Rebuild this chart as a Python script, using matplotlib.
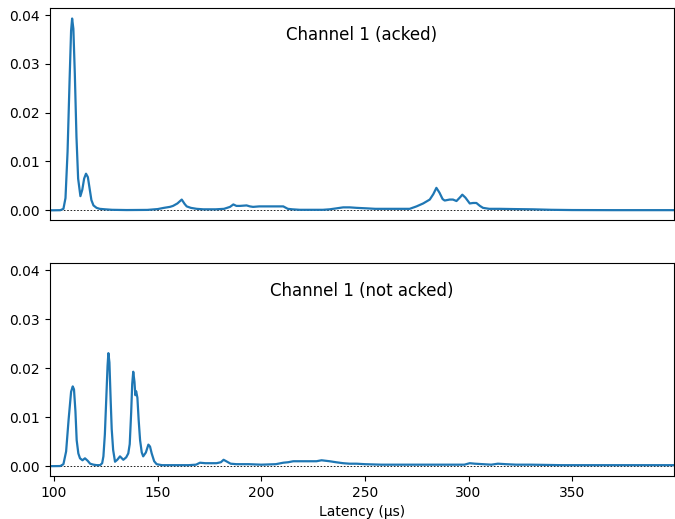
import matplotlib
matplotlib.use("Agg")
import matplotlib.pyplot as plt

# Channel 1 (acked)
acked_x = [98, 100, 103, 104.5, 105.5, 106.5, 107.5, 108.2, 108.7, 109.3, 110, 110.8, 111.6, 112.7,
           113.6, 114.5, 115.4, 116.3, 117.2, 118, 119, 120.5, 122, 124.6, 128, 135, 145, 150,
           153, 155.9, 157.4, 159.5, 161.6, 163, 164, 166, 168.8, 172, 178, 182, 184.9, 186.5,
           188, 189.7, 192.9, 194.5, 196, 199, 202.6, 206, 210.6, 212.8, 215, 218.6, 224, 229.7,
           233, 236.3, 239.5, 242.7, 246, 250.8, 255, 258.8, 265, 271.6, 274.9, 278.1, 281.3,
           283, 284.5, 286, 287.5, 288.5, 290.9, 292.5, 294.2, 296, 297, 298.5, 300.6, 302.2,
           303.8, 305.5, 307, 310, 315, 322, 331, 340, 350, 370, 399]
acked_y = [0.0, 0.0, 0.00002, 0.0003, 0.0025, 0.012, 0.027, 0.0368, 0.0393, 0.0372, 0.028, 0.015,
           0.0065, 0.0029, 0.0042, 0.0065, 0.0075, 0.0068, 0.0043, 0.0021, 0.0010, 0.0005, 0.0003,
           0.0002, 0.0001, 0.00005, 0.00008, 0.00025, 0.0005, 0.0007, 0.0009, 0.0014, 0.0022,
           0.0013, 0.0008, 0.0005, 0.0003, 0.0002, 0.0002, 0.0003, 0.0007, 0.0012, 0.0009, 0.0009,
           0.001, 0.0008, 0.0007, 0.0008, 0.0008, 0.0008, 0.0008, 0.0003, 0.0002, 0.0001, 0.0001,
           0.0001, 0.0002, 0.0004, 0.0006, 0.0006, 0.0005, 0.0004, 0.0003, 0.0003, 0.0003, 0.0003,
           0.0008, 0.0014, 0.0022, 0.0033, 0.0046, 0.0036, 0.0023, 0.0020, 0.0022, 0.0022, 0.0019,
           0.0027, 0.0032, 0.0026, 0.0014, 0.0015, 0.0015, 0.0009, 0.0005, 0.0003, 0.0003, 0.00025,
           0.0002, 0.0001, 0.00005, 0.00003, 0.00003]

# Channel 1 (not acked)
nack_x = [98, 100, 103, 104.5, 105.8, 107, 108.2, 109, 109.6, 110.3, 110.9, 111.7, 112.5, 113.7,
          114.9, 116.2, 117.4, 119, 120.6, 122.2, 123.2, 123.8, 124.5, 125.2, 125.8, 126.2,
          126.7, 127.3, 127.8, 128.5, 129.4, 130.5, 131.8, 133.4, 134.8, 135.8, 136.5, 137.2,
          137.7, 138.2, 138.8, 139.2, 139.6, 140.2, 140.8, 141.5, 142.3, 143, 144.3, 145.5,
          146.3, 147.1, 148.3, 149.5, 152, 158, 165, 168.5, 170.4, 173, 175.2, 178.4, 180.5,
          181.8, 183.5, 185.2, 188, 191, 194, 200, 207, 210.6, 213, 215.4, 218.6, 222, 226.6,
          229.1, 231, 233, 236, 239.5, 242.5, 245.9, 250, 258, 266, 275, 285, 295, 298, 300.6,
          303, 307, 311, 314.2, 318, 323, 330, 345, 360, 380, 399]
nack_y = [0.0, 0.0, 0.00002, 0.0004, 0.003, 0.0095, 0.0152, 0.0163, 0.0157, 0.0112, 0.0053,
          0.0026, 0.0016, 0.0012, 0.0016, 0.0011, 0.0005, 0.0003, 0.0002, 0.0002, 0.0006, 0.002,
          0.0065, 0.014, 0.0205, 0.0231, 0.0212, 0.0135, 0.0076, 0.0033, 0.0009, 0.0013, 0.002,
          0.0013, 0.0018, 0.0026, 0.0045, 0.011, 0.0168, 0.0193, 0.0172, 0.0145, 0.0153, 0.014,
          0.0095, 0.0053, 0.0028, 0.002, 0.0028, 0.0044, 0.004, 0.0026, 0.001, 0.0004, 0.0002,
          0.0002, 0.0002, 0.0003, 0.0007, 0.0006, 0.0006, 0.0006, 0.0008, 0.0013, 0.0009, 0.0005,
          0.0004, 0.0004, 0.0004, 0.0003, 0.0004, 0.0007, 0.0008, 0.001, 0.001, 0.001, 0.001,
          0.0012, 0.0011, 0.001, 0.0008, 0.0006, 0.0005, 0.0005, 0.0004, 0.0003, 0.0003, 0.0003,
          0.0003, 0.0003, 0.0003, 0.0006, 0.0005, 0.0004, 0.0003, 0.0005, 0.0004, 0.0003, 0.0003,
          0.0002, 0.0002, 0.0002, 0.0002]

titles = ["Channel 1 (acked)", "Channel 1 (not acked)"]
xticks = [100, 150, 200, 250, 300, 350]
yticks = [0.00, 0.01, 0.02, 0.03, 0.04]

fig = plt.figure(figsize=(6.75, 5.19), dpi=100)
ax1 = fig.add_axes([0.074, 0.576, 0.924, 0.409])
ax2 = fig.add_axes([0.074, 0.083, 0.924, 0.410], sharex=ax1, sharey=ax1)

for ax, xs, ys, t in [(ax1, acked_x, acked_y, titles[0]), (ax2, nack_x, nack_y, titles[1])]:
    ax.axhline(0, color="black", ls="--", lw=0.6, dashes=(2, 2))
    ax.plot(xs, ys, color="#1f77b4", lw=1.6)
    ax.text(0.5, 0.87, t, transform=ax.transAxes, ha="center", va="center", fontsize=12)
    ax.set_yticks(yticks)
    ax.set_yticklabels([f"{v:.2f}" for v in yticks])

ax1.set_xlim(98, 399)
ax1.set_ylim(-0.002, 0.0415)
ax1.tick_params(axis="x", bottom=False, labelbottom=False)
ax2.set_xticks(xticks)
ax2.set_xlabel("Latency (µs)")

fig.savefig("out.png", dpi=100)
